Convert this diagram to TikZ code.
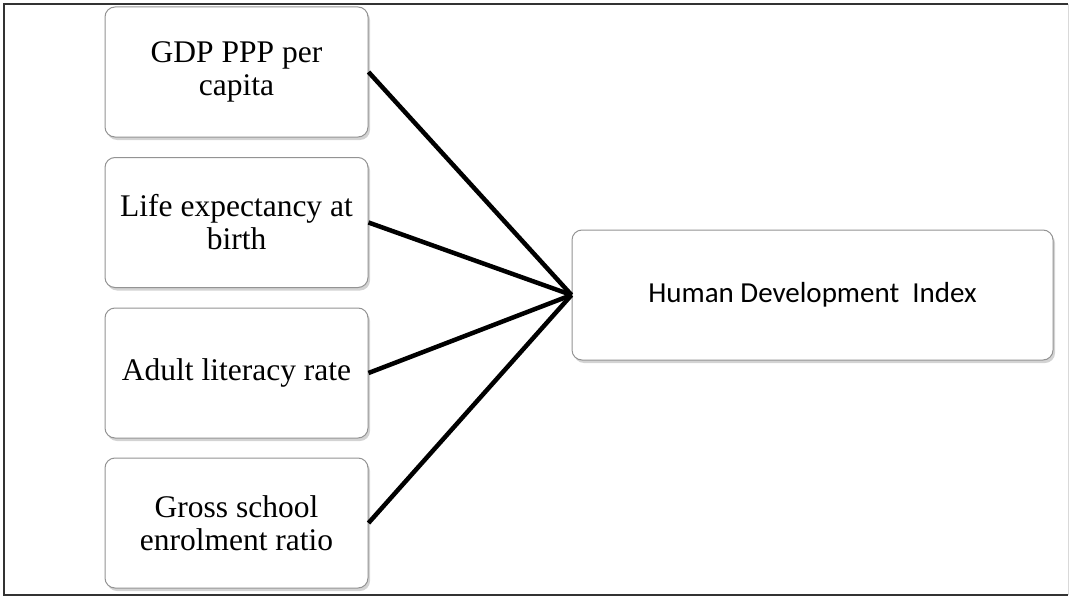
\documentclass[tikz,border=0pt]{standalone}
\usepackage{fontspec}
\setmainfont{Liberation Serif}
\newfontfamily\calibrifont{Carlito}
\usetikzlibrary{shadows}

\begin{document}
\begin{tikzpicture}[x=1pt, y=-1pt,
  box/.style={draw=gray!85, rounded corners=10pt, fill=white, line width=1pt, minimum width=263pt, minimum height=130pt, inner sep=3pt, align=center, font=\fontsize{31.5}{33}\selectfont, drop shadow={shadow xshift=2pt, shadow yshift=-3pt, opacity=0.35, fill=gray}},
  link/.style={line width=4.5pt, black}
]
\useasboundingbox (0,0) rectangle (1070,599);

% Draw outer frame
\draw[line width=1.5pt, black!80] (1068,4) -- (4,4) -- (4,595) -- (1068,595);
\draw[line width=1pt, gray!30] (1068,4) -- (1068,595);

% Draw the four components
\node[box] (gdp) at (236.5,72) {GDP PPP per\\capita};
\node[box] (life) at (236.5,222.5) {Life expectancy at\\birth};
\node[box] (lit) at (236.5,373) {Adult literacy rate};
\node[box] (gross) at (236.5,523) {Gross school\\enrolment ratio};

% Draw the index
\node[box, minimum width=481pt, font=\calibrifont\fontsize{29}{32}\selectfont] (hdi) at (812.5,295) {Human Development\ \ Index};

% Draw links into the index
\draw[link] (gdp.east) -- (hdi.west);
\draw[link] (life.east) -- (hdi.west);
\draw[link] (lit.east) -- (hdi.west);
\draw[link] (gross.east) -- (hdi.west);

\end{tikzpicture}
\end{document}
